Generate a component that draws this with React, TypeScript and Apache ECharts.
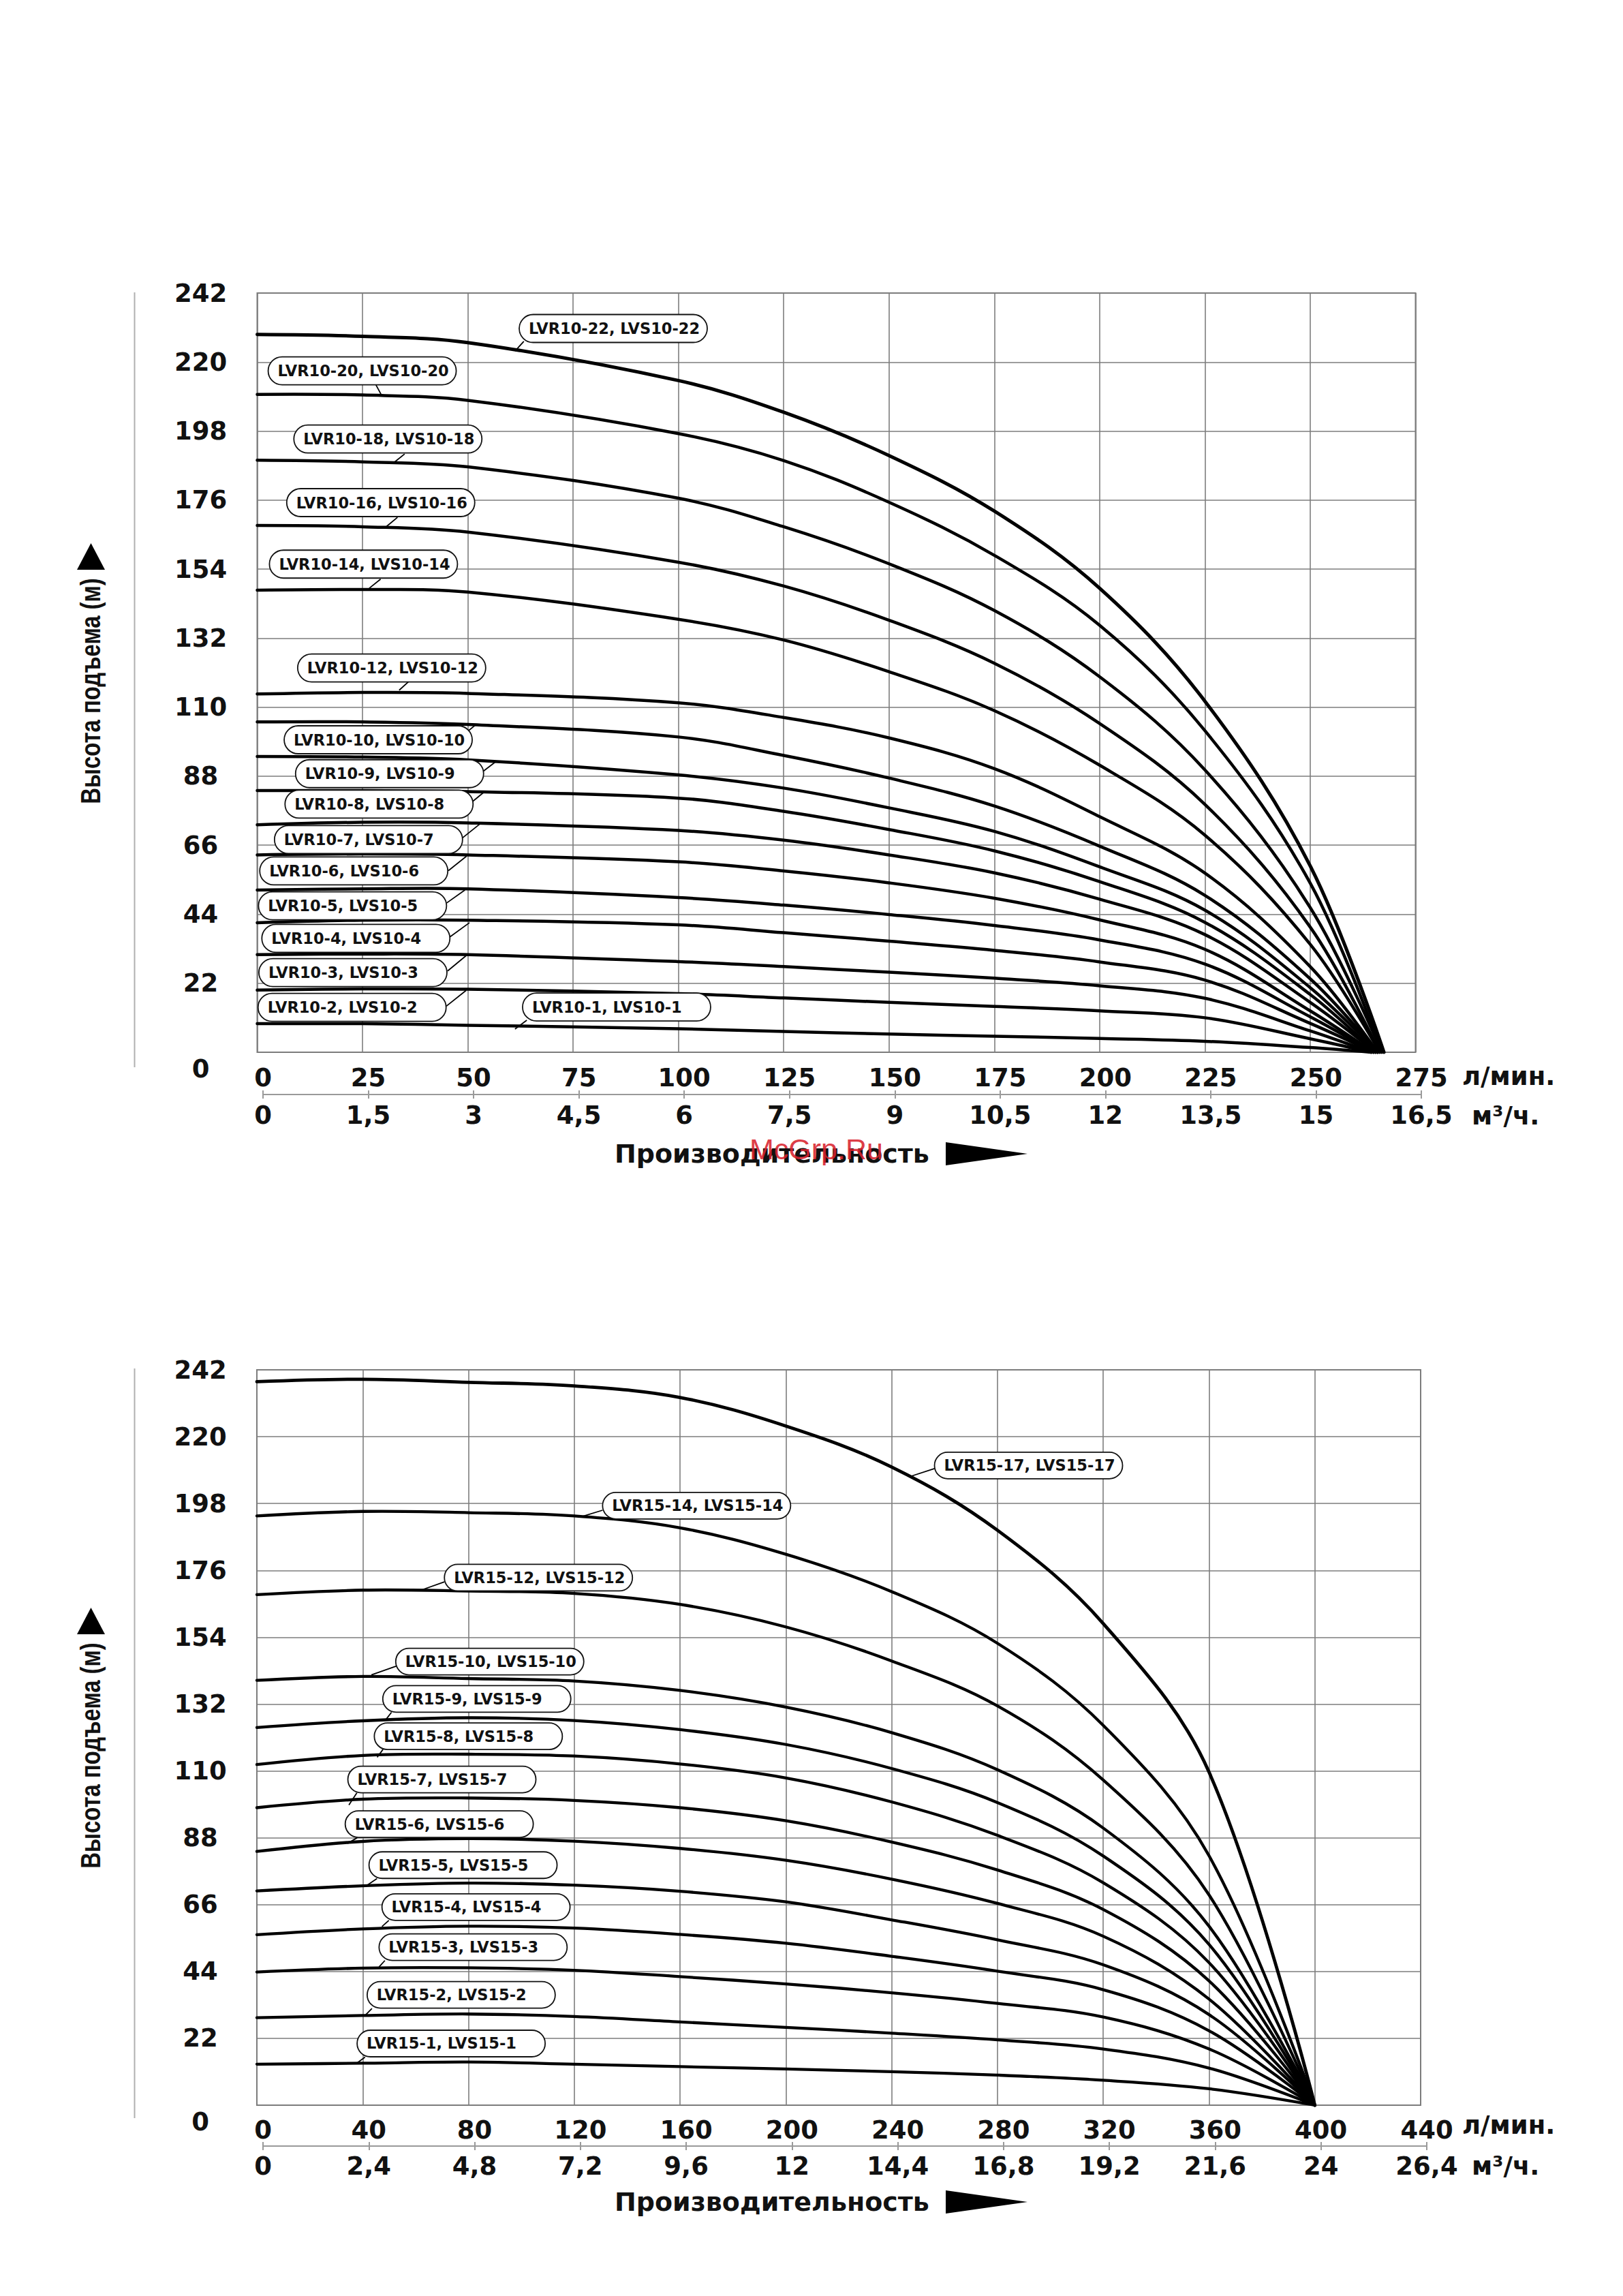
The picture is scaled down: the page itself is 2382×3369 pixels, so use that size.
import React, { useEffect, useRef } from 'react';
import * as echarts from 'echarts';

const FONT = '"DejaVu Sans", "Liberation Sans", sans-serif';
const ARIAL = '"Liberation Sans", Arial, sans-serif';
const GRID_COLOR = '#7d7d7d';
const SMOOTH = 0.36;

// ---------- Top chart: LVR10 / LVS10 ----------
const qTop = [0, 25, 50, 100, 125, 150, 175, 200, 225, 250];
const topModels = [
  'LVR10-22', 'LVR10-20', 'LVR10-18', 'LVR10-16', 'LVR10-14', 'LVR10-12', 'LVR10-10', 'LVR10-9',
  'LVR10-8', 'LVR10-7', 'LVR10-6', 'LVR10-5', 'LVR10-4', 'LVR10-3', 'LVR10-2', 'LVR10-1',
];
const h10_22 = [228.8, 228.2, 226.2, 214.1, 204.0, 190.2, 172.5, 147.9, 111.9, 59.4];
const h10_20 = [209.7, 209.5, 207.8, 197.2, 188.6, 175.3, 158.4, 136.1, 102.5, 53.9];
const h10_18 = [188.7, 188.2, 186.6, 176.6, 167.5, 155.7, 140.8, 119.7, 90.0, 46.1];
const h10_16 = [167.9, 167.5, 165.8, 156.2, 148.6, 137.7, 124.0, 104.8, 79.0, 39.9];
const h10_14 = [147.3, 147.5, 146.7, 138.0, 131.4, 121.3, 108.9, 91.5, 69.2, 34.4];
const h10_12 = [114.2, 114.7, 114.4, 111.4, 106.7, 100.2, 90.4, 75.1, 57.1, 27.3];
const h10_10 = [105.3, 105.3, 104.5, 100.5, 94.6, 87.4, 78.5, 65.7, 50.0, 23.4];
const h10_9 = [94.3, 94.1, 93.2, 88.4, 84.2, 77.9, 70.4, 59.1, 45.3, 20.6];
const h10_8 = [83.4, 83.4, 83.1, 81.0, 76.8, 71.0, 64.2, 54.4, 41.4, 18.4];
const h10_7 = [72.5, 73.3, 73.1, 70.7, 67.6, 62.9, 57.2, 48.8, 37.5, 15.9];
const h10_6 = [62.9, 63.2, 62.9, 60.7, 57.8, 54.0, 49.1, 42.2, 32.8, 13.2];
const h10_5 = [51.7, 52.1, 52.1, 49.3, 46.9, 43.9, 40.4, 35.8, 28.1, 11.3];
const h10_4 = [41.3, 42.1, 42.1, 40.6, 38.1, 35.4, 32.5, 28.8, 23.0, 9.2];
const h10_3 = [31.1, 31.3, 31.1, 28.9, 27.3, 25.5, 23.6, 21.2, 17.2, 6.8];
const h10_2 = [19.8, 20.2, 20.1, 18.7, 17.3, 15.9, 14.6, 13.2, 11.0, 4.3];
const h10_1 = [9.1, 9.1, 8.6, 7.5, 6.6, 5.8, 5.1, 4.4, 3.5, 1.5];
const topHeads = [h10_22, h10_20, h10_18, h10_16, h10_14, h10_12, h10_10, h10_9, h10_8, h10_7, h10_6, h10_5, h10_4, h10_3, h10_2, h10_1];
const topEndFlow = [267.5, 267, 267, 266.5, 266.5, 266, 266, 266, 265.5, 265.5, 265, 265, 265, 264.5, 264.5, 264.5];
const topM3Labels = ['0', '1,5', '3', '4,5', '6', '7,5', '9', '10,5', '12', '13,5', '15', '16,5'];
// [text, boxLeftQ, boxCenterH, leaderStartQ, leaderStartH, leaderEndQ, leaderEndH]
const topLabels = [
  ['LVR10-22, LVS10-22', 62.2, 230.7, 63.3, 226.6, 61.2, 223.5],
  ['LVR10-20, LVS10-20', 2.6, 217.2, 28.2, 212.7, 29.4, 209.7],
  ['LVR10-18, LVS10-18', 8.7, 195.5, 35.0, 190.7, 32.4, 187.9],
  ['LVR10-16, LVS10-16', 7.0, 175.2, 33.3, 170.5, 30.6, 167.5],
  ['LVR10-14, LVS10-14', 2.9, 155.6, 29.3, 150.8, 26.6, 147.9],
  ['LVR10-12, LVS10-12', 9.6, 122.5, 36.0, 118.2, 33.7, 115.4],
  ['LVR10-10, LVS10-10', 6.4, 99.6, 49.7, 102.0, 51.8, 104.3],
  ['LVR10-9, LVS10-9', 9.1, 88.8, 53.6, 89.5, 56.5, 92.5],
  ['LVR10-8, LVS10-8', 6.6, 79.1, 51.2, 80.0, 54.0, 83.1],
  ['LVR10-7, LVS10-7', 4.1, 67.8, 48.7, 68.3, 53.0, 72.9],
  ['LVR10-6, LVS10-6', 0.6, 57.8, 45.4, 57.9, 49.7, 62.5],
  ['LVR10-5, LVS10-5', 0.3, 46.7, 45.0, 47.6, 49.3, 51.7],
  ['LVR10-4, LVS10-4', 1.1, 36.3, 45.7, 36.7, 50.4, 41.3],
  ['LVR10-3, LVS10-3', 0.4, 25.4, 45.2, 25.9, 49.7, 30.9],
  ['LVR10-2, LVS10-2', 0.2, 14.3, 44.9, 14.7, 49.6, 19.7],
  ['LVR10-1, LVS10-1', 63.0, 14.4, 64.0, 10.2, 61.2, 7.4],
];

// ---------- Bottom chart: LVR15 / LVS15 ----------
const qBottom = [0, 40, 80, 120, 160, 200, 240, 280, 320, 360];
const bottomModels = [
  'LVR15-17', 'LVR15-14', 'LVR15-12', 'LVR15-10', 'LVR15-9', 'LVR15-8', 'LVR15-7',
  'LVR15-6', 'LVR15-5', 'LVR15-4', 'LVR15-3', 'LVR15-2', 'LVR15-1',
];
const h15_17 = [238.1, 238.9, 237.9, 236.7, 232.9, 223.5, 210.0, 189.2, 158.5, 109.6];
const h15_14 = [193.9, 195.4, 195.0, 193.9, 190.0, 181.3, 169.0, 152.0, 125.0, 82.1];
const h15_12 = [168.0, 169.5, 169.2, 168.4, 164.8, 157.4, 146.2, 131.4, 107.0, 69.2];
const h15_10 = [139.8, 141.1, 140.4, 139.6, 136.5, 131.0, 122.6, 110.4, 91.2, 58.9];
const h15_9 = [124.3, 126.5, 127.5, 126.6, 123.6, 118.7, 110.8, 99.6, 82.0, 52.9];
const h15_8 = [112.1, 115.1, 115.5, 114.9, 112.3, 107.7, 99.8, 88.8, 73.2, 46.9];
const h15_7 = [97.9, 100.7, 101.1, 100.3, 97.9, 93.6, 86.6, 77.4, 64.4, 40.9];
const h15_6 = [83.5, 86.8, 87.7, 86.9, 84.5, 80.6, 74.4, 66.4, 55.6, 34.9];
const h15_5 = [70.5, 72.2, 73.1, 72.4, 70.4, 66.9, 61.0, 54.4, 46.2, 29.8];
const h15_4 = [56.1, 58.0, 58.9, 58.3, 56.2, 53.3, 49.0, 44.1, 38.0, 24.5];
const h15_3 = [43.8, 45.1, 45.2, 44.4, 42.3, 39.9, 37.0, 33.5, 29.0, 18.5];
const h15_2 = [28.8, 29.5, 30.0, 29.2, 27.4, 25.6, 23.7, 21.5, 18.5, 12.2];
const h15_1 = [13.5, 13.8, 14.2, 13.5, 12.7, 11.9, 11.0, 9.9, 8.2, 5.4];
const bottomHeads = [h15_17, h15_14, h15_12, h15_10, h15_9, h15_8, h15_7, h15_6, h15_5, h15_4, h15_3, h15_2, h15_1];
const bottomEndFlow = 400;
const bottomM3Labels = ['0', '2,4', '4,8', '7,2', '9,6', '12', '14,4', '16,8', '19,2', '21,6', '24', '26,4'];
const bottomLabels = [
  ['LVR15-17, LVS15-17', 256.2, 210.5, 256.2, 209.5, 247.0, 206.9],
  ['LVR15-14, LVS15-14', 130.7, 197.3, 130.7, 195.8, 122.4, 193.6],
  ['LVR15-12, LVS15-12', 70.9, 173.6, 70.9, 172.2, 62.1, 169.5],
  ['LVR15-10, LVS15-10', 52.5, 146.0, 52.8, 144.5, 43.3, 141.6],
  ['LVR15-9, LVS15-9', 47.6, 133.7, 50.9, 129.3, 48.7, 126.8],
  ['LVR15-8, LVS15-8', 44.4, 121.4, 47.7, 117.1, 45.5, 114.5],
  ['LVR15-7, LVS15-7', 34.4, 107.2, 37.8, 102.8, 34.8, 98.8],
  ['LVR15-6, LVS15-6', 33.4, 92.5, 37.9, 88.0, 34.2, 86.1],
  ['LVR15-5, LVS15-5', 42.4, 79.0, 45.4, 74.6, 41.7, 72.4],
  ['LVR15-4, LVS15-4', 47.3, 65.2, 49.9, 60.8, 47.3, 58.8],
  ['LVR15-3, LVS15-3', 46.2, 52.0, 48.4, 47.6, 46.2, 45.5],
  ['LVR15-2, LVS15-2', 41.7, 36.3, 43.5, 31.8, 40.9, 29.5],
  ['LVR15-1, LVS15-1', 37.9, 20.3, 40.9, 15.8, 37.9, 13.9],
];

const Y_MAX = 242;
const Y_STEP = 22;
const yTitle = 'Высота подъема (м)';
const xTitle = 'Производительность';
const unitLpm = 'л/мин.';
const unitM3 = 'м³/ч.';

const tickFont = { fontFamily: FONT, fontWeight: 'bold' as const, fontSize: 37, color: '#111' };

function yAxisCfg(gridIndex: number) {
  return {
    type: 'value', gridIndex, min: 0, max: Y_MAX, interval: Y_STEP,
    axisLine: { show: false }, axisTick: { show: false },
    splitLine: { show: true, lineStyle: { color: GRID_COLOR, width: 1.6 } },
    axisLabel: {
      ...tickFont, align: 'center', margin: 83,
      formatter: (v: number) => (v === 0 ? '{z|0}' : String(v)),
      rich: { z: { ...tickFont, padding: [48, 0, 0, 0] } },
    },
  };
}

function hiddenY(gridIndex: number) {
  return { type: 'value', gridIndex, min: 0, max: Y_MAX, show: false };
}

function xAxesFor(mainGrid: number, shiftGrid: number, max: number, step: number, m3Max: number, m3Step: number, m3Labels: string[], offset: number, m1: number, m2: number) {
  return [
    {
      type: 'value', gridIndex: mainGrid, position: 'bottom', min: 0, max, interval: step,
      axisLine: { show: false }, axisTick: { show: false }, axisLabel: { show: false },
      splitLine: { show: true, lineStyle: { color: GRID_COLOR, width: 1.6 } },
    },
    {
      type: 'value', gridIndex: shiftGrid, position: 'bottom', min: 0, max, interval: step,
      axisLine: { show: false }, axisTick: { show: false }, splitLine: { show: false },
      axisLabel: { ...tickFont, margin: m1, formatter: (v: number) => String(v) },
    },
    {
      type: 'value', gridIndex: shiftGrid, position: 'bottom', min: 0, max: m3Max, interval: m3Step, offset,
      axisLine: { show: true, lineStyle: { color: '#9a9a9a', width: 2 } },
      axisTick: { show: true, length: 6, lineStyle: { color: '#9a9a9a', width: 2 } },
      splitLine: { show: false },
      axisLabel: { ...tickFont, margin: m2, formatter: (_v: number, i: number) => m3Labels[i] ?? '' },
    },
    {
      type: 'value', gridIndex: shiftGrid, position: 'bottom', min: 0, max: m3Max, interval: m3Step, offset,
      axisLine: { show: false },
      axisTick: { show: true, inside: true, length: 6, lineStyle: { color: '#9a9a9a', width: 2 } },
      splitLine: { show: false }, axisLabel: { show: false },
    },
  ];
}

// one pump curve as a custom series: the read points are projected through the axes
// and joined by the library's own smoothed polyline
function curveSeries(name: string, pts: number[][], xi: number, yi: number, width: number) {
  return {
    name, type: 'custom', xAxisIndex: xi, yAxisIndex: yi, silent: true, z: 5,
    data: pts, encode: { x: 0, y: 1 },
    renderItem: (params: any, api: any) => {
      if (params.dataIndex !== 0) return null;
      const px = pts.map((p) => api.coord(p));
      return {
        type: 'polyline',
        shape: { points: px, smooth: SMOOTH },
        style: { stroke: '#000', lineWidth: width, fill: null, lineJoin: 'round', lineCap: 'round' },
      };
    },
  };
}

export default function App() {
  const ref = useRef<HTMLDivElement>(null);

  useEffect(() => {
    if (!ref.current) return;
    const chart = echarts.init(ref.current, undefined, { renderer: 'svg' });

    const series: any[] = [];
    topHeads.forEach((h, i) => {
      const pts = [...qTop.map((q, j) => [q, h[j]]), [topEndFlow[i], 0]];
      series.push(curveSeries(topModels[i], pts, 0, 0, i === 0 ? 5 : 4.5));
    });
    bottomHeads.forEach((h, i) => {
      const pts = [...qBottom.map((q, j) => [q, h[j]]), [bottomEndFlow, 0]];
      series.push(curveSeries(bottomModels[i], pts, 4, 2, i === 0 ? 4.8 : 4.3));
    });

    const option: any = {
      animation: false,
      backgroundColor: '#ffffff',
      grid: [
        { left: 377.5, top: 430, width: 1700, height: 1114, show: true, borderColor: GRID_COLOR, borderWidth: 2, backgroundColor: 'transparent' },
        { left: 386, top: 430, width: 1700, height: 1114, show: false },
        { left: 377, top: 2010, width: 1708, height: 1079, show: true, borderColor: GRID_COLOR, borderWidth: 2, backgroundColor: 'transparent' },
        { left: 386, top: 2010, width: 1708, height: 1079, show: false },
      ],
      xAxis: [
        ...xAxesFor(0, 1, 275, 25, 16.5, 1.5, topM3Labels, 62, 19, 12),
        ...xAxesFor(2, 3, 440, 40, 26.4, 2.4, bottomM3Labels, 60, 18, 11),
      ],
      yAxis: [yAxisCfg(0), hiddenY(1), yAxisCfg(2), hiddenY(3)],
      series,
    };
    chart.setOption(option);

    const els: any[] = [];
    const addLabels = (labels: any[], xi: number, yi: number, boxH: number) => {
      labels.forEach((l) => {
        const [text, bq, bh, q1, h1, q2, h2] = l;
        const p = chart.convertToPixel({ xAxisIndex: xi, yAxisIndex: yi }, [bq, bh]) as number[];
        const a = chart.convertToPixel({ xAxisIndex: xi, yAxisIndex: yi }, [q1, h1]) as number[];
        const b = chart.convertToPixel({ xAxisIndex: xi, yAxisIndex: yi }, [q2, h2]) as number[];
        els.push({
          type: 'line', z: 20, silent: true,
          shape: { x1: a[0], y1: a[1], x2: b[0], y2: b[1] },
          style: { stroke: '#000', lineWidth: 1.8 },
        });
        els.push({
          type: 'rect', z: 21, silent: true,
          shape: { x: p[0], y: p[1] - boxH / 2, width: 276, height: boxH, r: boxH / 2 },
          style: { fill: '#fff', stroke: '#111', lineWidth: 1.8 },
        });
        els.push({
          type: 'text', z: 22, silent: true, x: p[0] + 14, y: p[1],
          style: {
            text, fill: '#111', font: `bold 22.5px ${FONT}`,
            align: 'left', verticalAlign: 'middle', textAlign: 'left', textVerticalAlign: 'middle',
          },
        });
      });
    };
    addLabels(topLabels, 0, 0, 41);
    addLabels(bottomLabels, 4, 2, 39);

    const staticText = (text: string, x: number, y: number, font: string, align = 'left', extra: any = {}) => ({
      type: 'text', z: 22, silent: true, x, y, ...extra,
      style: { text, fill: '#111', font, align, verticalAlign: 'middle', textAlign: align, textVerticalAlign: 'middle' },
    });

    const panels = [
      { yMid: 1014, triTop: 797, vTop: 429, vBot: 1566, titleY: 1693, lpmY: 1579, m3Y: 1637 },
      { yMid: 2576, triTop: 2359, vTop: 2008, vBot: 3108, titleY: 3231, lpmY: 3118, m3Y: 3178 },
    ];
    panels.forEach((pn) => {
      els.push({
        type: 'line', z: 1, silent: true,
        shape: { x1: 197.5, y1: pn.vTop, x2: 197.5, y2: pn.vBot },
        style: { stroke: '#b0b0b0', lineWidth: 2 },
      });
      els.push(staticText(yTitle, 133, pn.yMid, `bold 40px ${ARIAL}`, 'center', { rotation: Math.PI / 2, scaleX: 0.82 }));
      els.push({
        type: 'polygon', z: 22, silent: true,
        shape: { points: [[113, pn.triTop + 39], [154, pn.triTop + 39], [133.5, pn.triTop]] },
        style: { fill: '#000' },
      });
      els.push(staticText(xTitle, 902, pn.titleY, `bold 38px ${FONT}`, 'left'));
      els.push({
        type: 'polygon', z: 22, silent: true,
        shape: { points: [[1388, pn.titleY - 17], [1388, pn.titleY + 17], [1508, pn.titleY]] },
        style: { fill: '#000' },
      });
      els.push(staticText(unitLpm, 2146, pn.lpmY, `bold 37px ${FONT}`, 'left'));
      els.push(staticText(unitM3, 2160, pn.m3Y, `bold 37px ${FONT}`, 'left'));
    });
    els.push({
      type: 'text', z: 30, silent: true, x: 1100, y: 1686,
      style: { text: 'McGrp.Ru', fill: '#d9232e', font: `43px ${ARIAL}`, align: 'left', verticalAlign: 'middle', textAlign: 'left', textVerticalAlign: 'middle', opacity: 0.9 },
    });

    chart.setOption({ graphic: { elements: els } });

    return () => chart.dispose();
  }, []);

  return (
    <div
      ref={ref}
      style={{ position: 'absolute', left: 0, top: 0, width: 2382, height: 3369, background: '#fff' }}
    />
  );
}
